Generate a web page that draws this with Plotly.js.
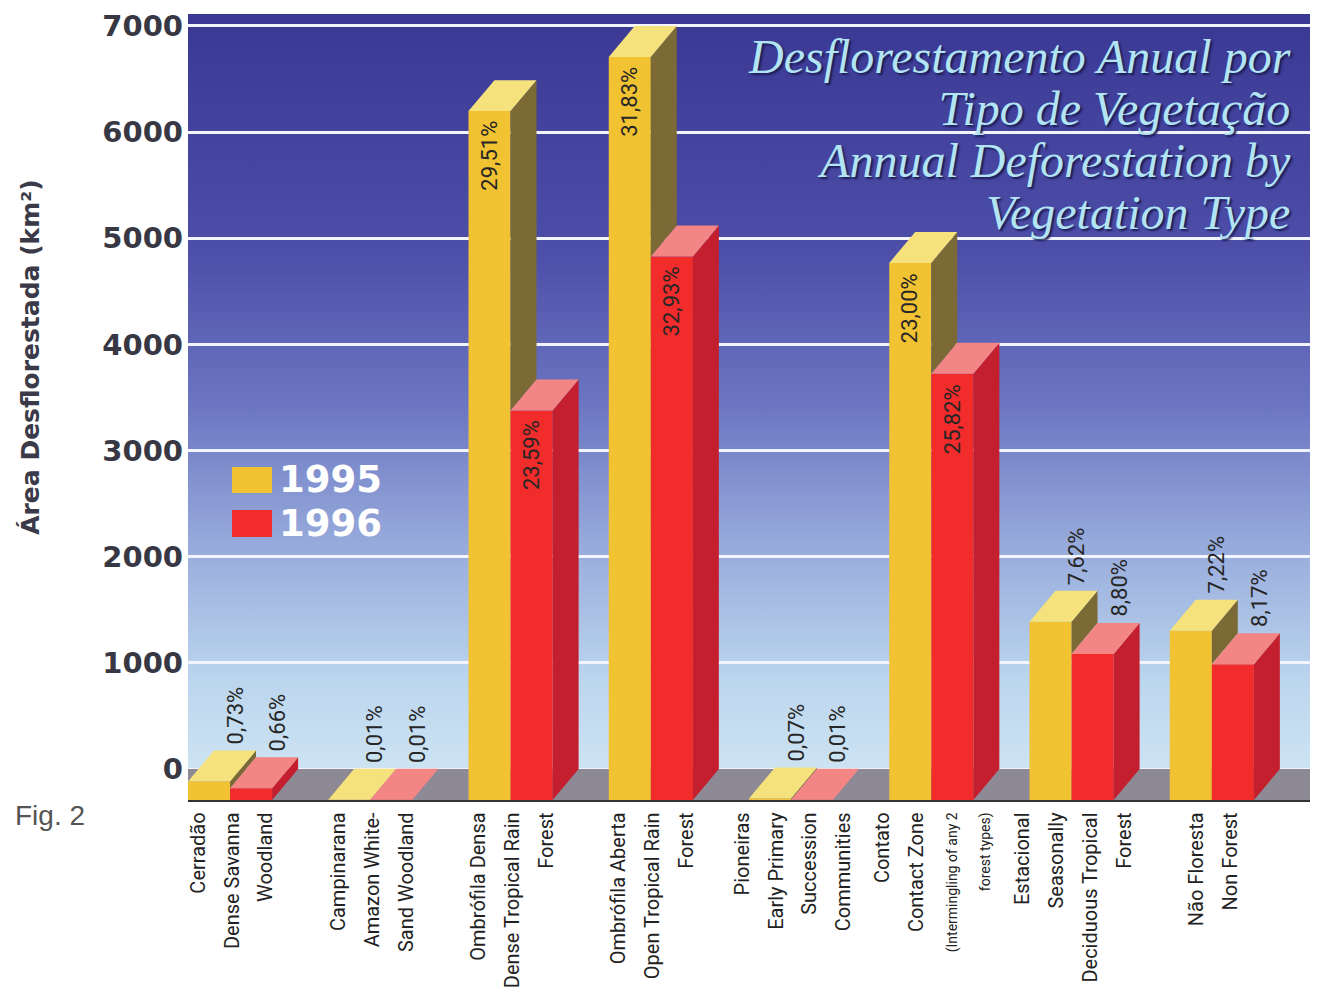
<!DOCTYPE html>
<html>
<head>
<meta charset="utf-8">
<script src="https://cdn.plot.ly/plotly-3.0.1.min.js"></script>
<style>html,body{margin:0;padding:0;background:#fff;}#chart{width:1318px;height:989px;}</style>
</head>
<body>
<div id="chart"></div>
<script>
// ---------------- data ----------------
const categoryLines = [
  ["Cerradão", "Dense Savanna", "Woodland"],
  ["Campinarana", "Amazon White-", "Sand Woodland"],
  ["Ombrófila Densa", "Dense Tropical Rain", "Forest"],
  ["Ombrófila Aberta", "Open Tropical Rain", "Forest"],
  ["Pioneiras", "Early Primary", "Succession", "Communities"],
  ["Contato", "Contact Zone", "(Intermingling of any 2", "forest types)"],
  ["Estacional", "Seasonally", "Deciduous Tropical", "Forest"],
  ["Não Floresta", "Non Forest"]
];
const smallLines = ["(Intermingling of any 2", "forest types)"];
const seriesNames = ["1995", "1996"];
const values1995 = [175, 2, 6490, 7000, 15, 5060, 1680, 1595];
const values1996 = [110, 2, 3670, 5120, 2, 4015, 1375, 1280];
const pct1995 = ["0,73%", "0,01%", "29,51%", "31,83%", "0,07%", "23,00%", "7,62%", "7,22%"];
const pct1996 = ["0,66%", "0,01%", "23,59%", "32,93%", "0,01%", "25,82%", "8,80%", "8,17%"];
const yTicks = [0, 1000, 2000, 3000, 4000, 5000, 6000, 7000];
const titleLines = ["Desflorestamento Anual por", "Tipo de Vegetação", "Annual Deforestation by", "Vegetation Type"];

// ---------------- geometry / style ----------------
const BW = 0.3;          // bar width (x units)
const DX = 0.185;        // depth in x units
const DY = 292;          // depth in y units
const SPAN = 7405;       // visible y span
const styles = [
  {front: "#f1c232", top: "#f5e27c", side: "#7b6a36"},
  {front: "#f22b2b", top: "#f38585", side: "#c41f2e"}
];
const narrow = "Roboto, Liberation Sans Narrow, Arial Narrow, sans-serif";
const allVals = [values1995, values1996];
const allPct = [pct1995, pct1996];

const tickText = categoryLines.map(lines => lines.map(l =>
  "<span style='font-size:" + (smallLines.includes(l) ? 14 : 20) + "px'>" + l + "</span>").join("<br>"));

const traces = [];
const annotations = [];

// invisible trace on main subplot (back wall axis)
traces.push({x: [0], y: [0], type: "scatter", mode: "markers",
  marker: {opacity: 0}, hoverinfo: "skip", showlegend: false, xaxis: "x", yaxis: "y"});

// front faces (bars)
allVals.forEach((vals, s) => {
  traces.push({
    type: "bar", name: seriesNames[s], xaxis: "x", yaxis: "y2",
    x: vals.map((v, i) => i + BW * s + BW / 2),
    y: vals, width: vals.map(() => BW),
    marker: {color: styles[s].front, line: {width: 0}},
    showlegend: false, hoverinfo: "y"
  });
});

// side and top faces (polygons computed from the values)
allVals.forEach((vals, s) => {
  const sx = [], sy = [], tx = [], ty = [];
  vals.forEach((v, i) => {
    const x0 = i + BW * s, x1 = x0 + BW;
    let lo = 0;
    if (s === 0) lo = Math.min(values1996[i], v); // lower part hidden by the 1996 bar
    sx.push(x1, x1 + DX, x1 + DX, x1, x1, null);
    sy.push(lo, lo + DY, v + DY, v, lo, null);
    tx.push(x0, x0 + DX, x1 + DX, x1, x0, null);
    ty.push(v, v + DY, v + DY, v, v, null);
  });
  traces.push({type: "scatter", mode: "lines", x: sx, y: sy, fill: "toself",
    fillcolor: styles[s].side, line: {width: 0}, xaxis: "x", yaxis: "y2",
    hoverinfo: "skip", showlegend: false});
  traces.push({type: "scatter", mode: "lines", x: tx, y: ty, fill: "toself",
    fillcolor: styles[s].top, line: {width: 0}, xaxis: "x", yaxis: "y2",
    hoverinfo: "skip", showlegend: false});
});

// percentage labels
allVals.forEach((vals, s) => {
  vals.forEach((v, i) => {
    const xc = i + BW * s + BW / 2;
    const inside = v > 3000;
    annotations.push({
      xref: "x", yref: "y2",
      x: inside ? xc : xc + DX,
      y: inside ? v : v + DY,
      text: allPct[s][i], showarrow: false, textangle: -90,
      xanchor: "center", yanchor: inside ? "top" : "bottom",
      yshift: inside ? -8 : 4,
      font: {family: narrow, size: 22, color: "#262626"}
    });
  });
});

// legend (custom, large swatches)
const legendRows = [{y0: 0.3906, y1: 0.4237}, {y0: 0.3346, y1: 0.3690}];
const shapes = [];
legendRows.forEach((r, s) => {
  shapes.push({type: "rect", xref: "paper", yref: "paper", x0: 0.0392, x1: 0.0749,
    y0: r.y0, y1: r.y1, fillcolor: styles[s].front, line: {width: 0}, layer: "above"});
  annotations.push({xref: "paper", yref: "paper", x: 0.0795, y: (r.y0 + r.y1) / 2,
    xanchor: "left", yanchor: "middle", showarrow: false, text: seriesNames[s],
    font: {family: "DejaVu Sans", size: 37, color: "#ffffff", weight: 900}});
});

// floor
shapes.push({type: "rect", xref: "x", yref: "y", x0: 0, x1: 8, y0: -DY, y1: 0,
  fillcolor: "#8d8995", line: {width: 0}, layer: "between"});

// y axis title and figure label
annotations.push({xref: "paper", yref: "paper", x: -0.141, y: 0.5636, textangle: -90,
  showarrow: false, xanchor: "center", yanchor: "middle",
  text: "Área Desflorestada (km²)",
  font: {family: "DejaVu Sans", size: 25, color: "#3a3a48", weight: 700}});
annotations.push({xref: "paper", yref: "paper", x: -0.156, y: -0.02, showarrow: false,
  xanchor: "left", yanchor: "middle", text: "Fig. 2",
  font: {family: "Liberation Sans, Arial, sans-serif", size: 28, color: "#555555"}});

// background gradient
const svg = "<svg xmlns='http://www.w3.org/2000/svg' width='100' height='100' preserveAspectRatio='none'>" +
  "<defs><linearGradient id='g' x1='0' y1='0' x2='0' y2='1'>" +
  "<stop offset='0' stop-color='#3a3893'/>" +
  "<stop offset='0.3' stop-color='#4d4ea8'/>" +
  "<stop offset='0.5' stop-color='#6c76c2'/>" +
  "<stop offset='0.68' stop-color='#98acdc'/>" +
  "<stop offset='0.85' stop-color='#bcd6ee'/>" +
  "<stop offset='1' stop-color='#d2e8f4'/>" +
  "</linearGradient></defs><rect width='100' height='100' fill='url(#g)'/></svg>";
const bgSrc = "data:image/svg+xml;charset=utf-8," + encodeURIComponent(svg);

const layout = {
  width: 1318, height: 989,
  margin: {l: 188, r: 8, t: 14, b: 189},
  paper_bgcolor: "#ffffff",
  plot_bgcolor: "rgba(0,0,0,0)",
  showlegend: false,
  barmode: "overlay",
  title: {
    text: titleLines.map(l => "<span style='font-size:48px'>" + l + "</span>").join("<br>"),
    xref: "container", yref: "container", x: 0.979, y: 0.926, xanchor: "right", yanchor: "top",
    font: {family: "Liberation Serif, Times New Roman, serif", style: "italic", size: 40,
      color: "#b2e4f4", shadow: "2px 2px 2px #1c1c55"}
  },
  xaxis: {
    range: [0, 8], tickmode: "array",
    tickvals: categoryLines.map((c, i) => i + BW),
    ticktext: tickText, tickangle: -90,
    tickfont: {family: narrow, size: 26, color: "#222222"},
    showgrid: false, zeroline: false, showline: true, linecolor: "#333333", linewidth: 2,
    ticks: "", fixedrange: true
  },
  yaxis: {
    range: [-DY, SPAN - DY], tickmode: "array", tickvals: yTicks,
    ticktext: yTicks.map(String),
    tickfont: {family: "DejaVu Sans", size: 29, color: "#383845", weight: 900},
    showgrid: true, gridcolor: "#f2f4ff", gridwidth: 3, zeroline: false,
    showline: false, ticks: "", ticklabelstandoff: 4, fixedrange: true
  },
  yaxis2: {
    range: [0, SPAN], overlaying: "y", visible: false, showgrid: false, zeroline: false, fixedrange: true
  },
  images: [{source: bgSrc, xref: "paper", yref: "paper", x: 0, y: 1, sizex: 1, sizey: 1,
    sizing: "stretch", xanchor: "left", yanchor: "top", layer: "below"}],
  shapes: shapes,
  annotations: annotations
};

Plotly.newPlot("chart", traces, layout, {displayModeBar: false, staticPlot: true});
</script>
</body>
</html>
